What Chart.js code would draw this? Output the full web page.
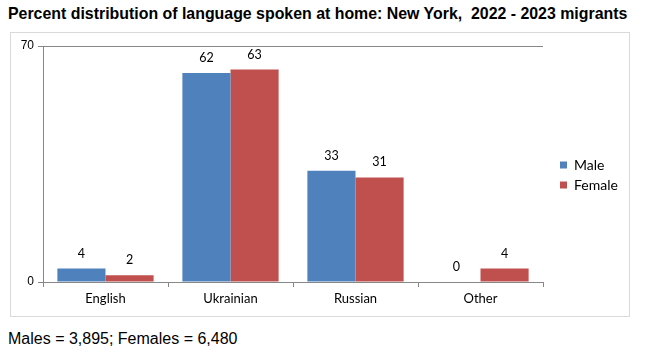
<!DOCTYPE html>
<html><head><meta charset="utf-8">
<script src="https://cdn.jsdelivr.net/npm/chart.js@4"></script>
<style>
html,body{margin:0;padding:0;background:#fff;}
body{width:645px;height:356px;position:relative;overflow:hidden;font-family:"Liberation Sans",Arial,sans-serif;color:#000;}
#title{position:absolute;left:8px;top:5px;font-weight:bold;font-size:15.9px;white-space:pre;}
#box{position:absolute;left:10px;top:32px;width:620px;height:285px;border:1px solid #d9d9d9;box-sizing:border-box;}
#c{position:absolute;left:0;top:0;}
#foot{position:absolute;left:8px;top:330px;font-size:16px;white-space:pre;}
</style></head><body>
<div id="title">Percent distribution of language spoken at home: New York,  2022 - 2023 migrants</div>
<div id="box"><canvas id="c" width="618" height="283"></canvas></div>
<div id="foot">Males = 3,895; Females = 6,480</div>
<script>
const categories = ['English', 'Ukrainian', 'Russian', 'Other'];
const seriesNames = ['Male', 'Female'];
const maleValues = [4, 62, 33, 0];
const femaleValues = [2, 63, 31, 4];
const yTickValues = [0, 70];

const LABEL_FAMILY = 'Lato';
const AXIS_COLOR = '#878787';
const LEGEND_SIZE = 14;

// compute legend width so that the plot area ends where the reference does
const mctx = document.createElement('canvas').getContext('2d');
mctx.font = 'normal ' + LEGEND_SIZE + 'px ' + LABEL_FAMILY;
const maxTextW = Math.max(...seriesNames.map(s => mctx.measureText(s).width));
const legendW = 8 + 7 + LEGEND_SIZE / 2 + maxTextW + 11;
const padRight = Math.max(0, 618 - 531 - legendW + 2);

const valueLabels = {
  id: 'valueLabels',
  afterDatasetsDraw(chart) {
    const ctx = chart.ctx;
    ctx.save();
    ctx.font = 'normal 12.5px ' + LABEL_FAMILY;
    ctx.fillStyle = '#000';
    ctx.textAlign = 'center';
    ctx.textBaseline = 'alphabetic';
    chart.data.datasets.forEach((ds, i) => {
      chart.getDatasetMeta(i).data.forEach((bar, j) => {
        ctx.fillText(String(ds.data[j]), bar.x, bar.y - 11);
      });
    });
    ctx.restore();
  }
};

const legendShift = {
  id: 'legendShift',
  afterLayout(chart) {
    const l = chart.legend;
    if (!l) return;
    const dx = (551 - 8) - l.left;
    l.left += dx; l.right += dx; l.top -= 6; l.bottom -= 6;
  }
};

new Chart(document.getElementById('c'), {
  type: 'bar',
  data: {
    labels: categories,
    datasets: [
      { label: seriesNames[0], data: maleValues, backgroundColor: '#4F81BD', borderWidth: 0, categoryPercentage: 0.77, barPercentage: 1 },
      { label: seriesNames[1], data: femaleValues, backgroundColor: '#C0504D', borderWidth: 0, categoryPercentage: 0.77, barPercentage: 1 }
    ]
  },
  options: {
    responsive: false,
    animation: false,
    layout: { padding: { top: 13, left: 0, bottom: 0, right: padRight } },
    plugins: {
      tooltip: { enabled: false },
      title: { display: false },
      legend: {
        display: true,
        position: 'right',
        align: 'center',
        labels: {
          boxWidth: 7, boxHeight: 7, padding: 6,
          color: '#000',
          font: { family: LABEL_FAMILY, size: LEGEND_SIZE }
        }
      }
    },
    scales: {
      x: {
        type: 'category',
        offset: true,
        grid: { display: true, drawOnChartArea: false, drawTicks: true, tickLength: 5, color: AXIS_COLOR, offset: true },
        border: { display: true, color: AXIS_COLOR },
        ticks: { color: '#000', padding: 4, font: { family: LABEL_FAMILY, size: 13 }, maxRotation: 0 },
        afterFit(s) { s.height = 34; }
      },
      y: {
        min: 0, max: 70,
        grid: { display: true, drawOnChartArea: true, drawTicks: true, tickLength: 5, color: AXIS_COLOR },
        border: { display: true, color: AXIS_COLOR },
        ticks: { color: '#000', padding: 4, font: { family: 'Liberation Sans', size: 12 } },
        afterBuildTicks(s) { s.ticks = yTickValues.map(v => ({ value: v })); },
        afterFit(s) { s.width = 32; }
      }
    }
  },
  plugins: [valueLabels, legendShift]
});
</script>
</body></html>
